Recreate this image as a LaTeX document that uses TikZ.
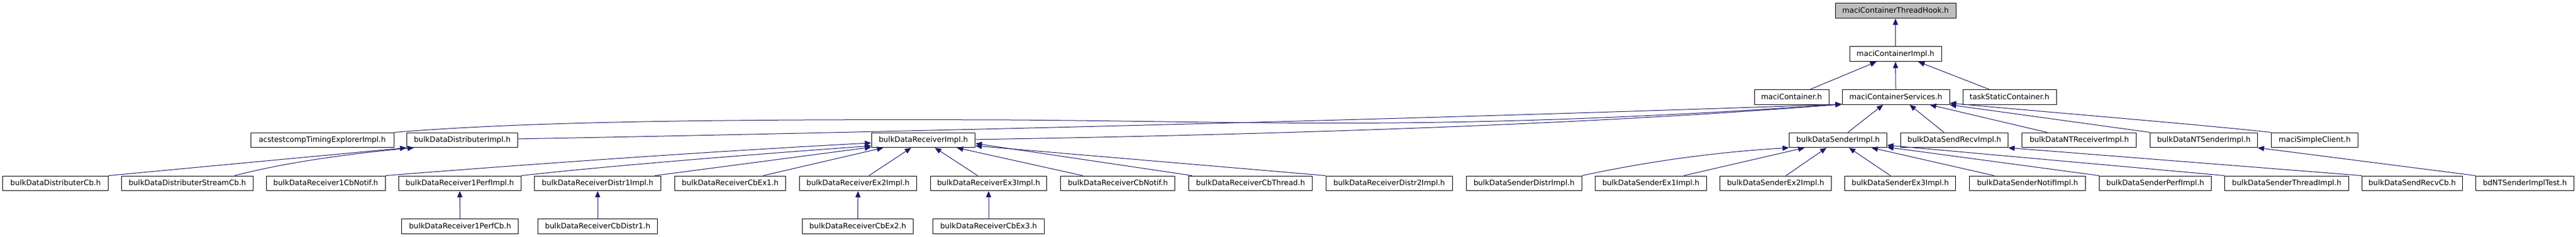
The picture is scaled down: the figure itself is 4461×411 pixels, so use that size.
\documentclass[tikz,border=0pt]{standalone}
\usepackage{fontspec}
\setmainfont{DejaVu Sans}
\usetikzlibrary{arrows.meta,calc}
\definecolor{edgeblue}{RGB}{25,25,112}
\definecolor{hookgray}{RGB}{191,191,191}
\begin{document}
\begin{tikzpicture}[x=1pt,y=-1pt,
  box/.style={draw=black,line width=1pt,rectangle,inner sep=0pt,minimum height=25.7pt,
    text height=10pt,text depth=2pt,font=\fontsize{12.9}{15}\selectfont,fill=white},
  edge/.style={draw=edgeblue,line width=1pt,-{Triangle[length=11pt,width=9pt]}}]
\fill[white] (0,0) rectangle (4461,411);
\useasboundingbox (0,0) rectangle (4461,411);
% row A
\node[box,fill=hookgray,minimum width=209pt] (hook) at (3282.5,18.8) {maciContainerThreadHook.h};
% row B
\node[box,minimum width=159pt] (cimpl) at (3282.5,93.8) {maciContainerImpl.h};
% row C
\node[box,minimum width=129pt] (mc) at (3102.5,168.4) {maciContainer.h};
\node[box,minimum width=186pt] (svc) at (3283,168.4) {maciContainerServices.h};
\node[box,minimum width=162pt] (tsc) at (3480,168.4) {taskStaticContainer.h};
% row D
\node[box,minimum width=248pt] (acst) at (558,242.9) {acstestcompTimingExplorerImpl.h};
\node[box,minimum width=192.4pt] (dimpl) at (800.5,242.9) {bulkDataDistributerImpl.h};
\node[box,minimum width=179.7pt] (rimpl) at (1599,242.9) {bulkDataReceiverImpl.h};
\node[box,minimum width=169pt] (simpl) at (3183,242.9) {bulkDataSenderImpl.h};
\node[box,minimum width=185.6pt] (srimpl) at (3384.5,242.9) {bulkDataSendRecvImpl.h};
\node[box,minimum width=198pt] (ntr) at (3600.7,242.9) {bulkDataNTReceiverImpl.h};
\node[box,minimum width=185.6pt] (nts) at (3816.5,242.9) {bulkDataNTSenderImpl.h};
\node[box,minimum width=150.3pt] (msc) at (4008.4,242.9) {maciSimpleClient.h};
% row E
\node[box,minimum width=182.8pt] (dcb) at (96.2,317.9) {bulkDataDistributerCb.h};
\node[box,minimum width=227.8pt] (dscb) at (324.4,317.9) {bulkDataDistributerStreamCb.h};
\node[box,minimum width=205.8pt] (r1cn) at (564.1,317.9) {bulkDataReceiver1CbNotif.h};
\node[box,minimum width=212.4pt] (r1pi) at (796.2,317.9) {bulkDataReceiver1PerfImpl.h};
\node[box,minimum width=219pt] (rd1i) at (1035,317.9) {bulkDataReceiverDistr1Impl.h};
\node[box,minimum width=192.4pt] (rce1) at (1264.6,317.9) {bulkDataReceiverCbEx1.h};
\node[box,minimum width=202.4pt] (rex2) at (1485.9,317.9) {bulkDataReceiverEx2Impl.h};
\node[box,minimum width=201.9pt] (rex3) at (1712,317.9) {bulkDataReceiverEx3Impl.h};
\node[box,minimum width=198pt] (rcn) at (1935.9,317.9) {bulkDataReceiverCbNotif.h};
\node[box,minimum width=213.3pt] (rct) at (2165.6,317.9) {bulkDataReceiverCbThread.h};
\node[box,minimum width=219.1pt] (rd2i) at (2405.7,317.9) {bulkDataReceiverDistr2Impl.h};
\node[box,minimum width=200pt] (sdi) at (2639.2,317.9) {bulkDataSenderDistrImpl.h};
\node[box,minimum width=193.3pt] (se1) at (2858.9,317.9) {bulkDataSenderEx1Impl.h};
\node[box,minimum width=193.3pt] (se2) at (3074.9,317.9) {bulkDataSenderEx2Impl.h};
\node[box,minimum width=192.3pt] (se3) at (3290.7,317.9) {bulkDataSenderEx3Impl.h};
\node[box,minimum width=200.9pt] (sni) at (3511.3,317.9) {bulkDataSenderNotifImpl.h};
\node[box,minimum width=193.3pt] (spi) at (3732.3,317.9) {bulkDataSenderPerfImpl.h};
\node[box,minimum width=214.3pt] (sti) at (3960,317.9) {bulkDataSenderThreadImpl.h};
\node[box,minimum width=174.1pt] (srcb) at (4177.3,317.9) {bulkDataSendRecvCb.h};
\node[box,minimum width=170.3pt] (bdnt) at (4372.5,317.9) {bdNTSenderImplTest.h};
% row F
\node[box,minimum width=201.9pt] (r1pcb) at (796.7,392.4) {bulkDataReceiver1PerfCb.h};
\node[box,minimum width=207.7pt] (rcd1) at (1035,392.4) {bulkDataReceiverCbDistr1.h};
\node[box,minimum width=191.8pt] (rce2) at (1485.4,392.4) {bulkDataReceiverCbEx2.h};
\node[box,minimum width=192.3pt] (rce3) at (1712,392.4) {bulkDataReceiverCbEx3.h};
% edges top
\draw[edge] (cimpl.north) -- (hook.south);
\draw[edge] ($(mc.north)+(32,0)$) -- ($(cimpl.south)+(-33,0)$);
\draw[edge] (svc.north) -- (cimpl.south);
\draw[edge] ($(tsc.north)+(-35,0)$) -- ($(cimpl.south)+(39.5,0)$);
% into services
\draw[edge] (acst.north east) .. controls (900,212) and (1200,206) .. (1750,208)
   .. controls (2200,211) and (2500,228) .. ($(svc.south west)+(0,-1)$);
\draw[edge] ($(dimpl.east)+(0,-2)$) .. controls (1700,226) and (2500,205) .. ($(svc.south west)+(0,-1)$);
\draw[edge] ($(rimpl.east)+(0,-1)$) .. controls (2300,232) and (2800,212) .. ($(svc.south west)+(0,-1)$);
\draw[edge] ($(simpl.north)+(17,0)$) -- ($(svc.south)+(-22,0)$);
\draw[edge] ($(srimpl.north)+(-18,0)$) -- ($(svc.south)+(24,0)$);
\draw[edge] ($(ntr.north)+(-56,0)$) -- ($(svc.south)+(59,0)$);
\draw[edge] (nts.north west) -- (svc.south east);
\draw[edge] (msc.north west) .. controls (3800,215) and (3550,195) .. ($(svc.south east)+(0,-3)$);
% distributer
\draw[edge] (dcb.north east) -- (dimpl.south west);
\draw[edge] ($(dscb.north)+(82,0)$) .. controls (500,280) and (620,265) .. ($(dimpl.south west)+(13,0)$);
% receiver
\draw[edge] (r1cn.north east) .. controls (850,290) and (1200,264) .. ($(rimpl.west)+(0,5)$);
\draw[edge] (r1pi.north east) .. controls (1050,288) and (1300,268) .. ($(rimpl.west)+(0,10)$);
\draw[edge] ($(rd1i.north)+(99,0)$) -- ($(rimpl.south west)+(0,-1)$);
\draw[edge] ($(rce1.north)+(57,0)$) -- ($(rimpl.south west)+(21,0)$);
\draw[edge] ($(rex2.north)+(19,0)$) -- ($(rimpl.south)+(-21,0)$);
\draw[edge] ($(rex3.north)+(-19,0)$) -- ($(rimpl.south)+(20,0)$);
\draw[edge] ($(rcn.north)+(-61,0)$) -- ($(rimpl.south)+(58,0)$);
\draw[edge] ($(rct.north west)+(6,0)$) -- ($(rimpl.east)+(0,6)$);
\draw[edge] (rd2i.north west) -- ($(rimpl.east)+(0,10)$);
\draw[edge] (r1pcb.north) -- (r1pi.south);
\draw[edge] (rcd1.north) -- (rd1i.south);
\draw[edge] (rce2.north) -- (rex2.south);
\draw[edge] (rce3.north) -- (rex3.south);
% sender
\draw[edge] (sdi.north east) .. controls (2830,285) and (2950,265) .. (simpl.south west);
\draw[edge] ($(se1.north)+(57,0)$) -- ($(simpl.south west)+(27,0)$);
\draw[edge] ($(se2.north)+(18,0)$) -- ($(simpl.south)+(-20,0)$);
\draw[edge] ($(se3.north)+(-17,0)$) -- ($(simpl.south)+(19,0)$);
\draw[edge] ($(sni.north)+(-58,0)$) -- ($(simpl.south)+(58,0)$);
\draw[edge] (spi.north west) -- ($(simpl.south east)+(0,-1)$);
\draw[edge] (sti.north west) -- ($(simpl.east)+(0,9)$);
\draw[edge] (srcb.north west) -- (srimpl.south east);
\draw[edge] (bdnt.north west) -- (nts.south east);
\end{tikzpicture}
\end{document}
